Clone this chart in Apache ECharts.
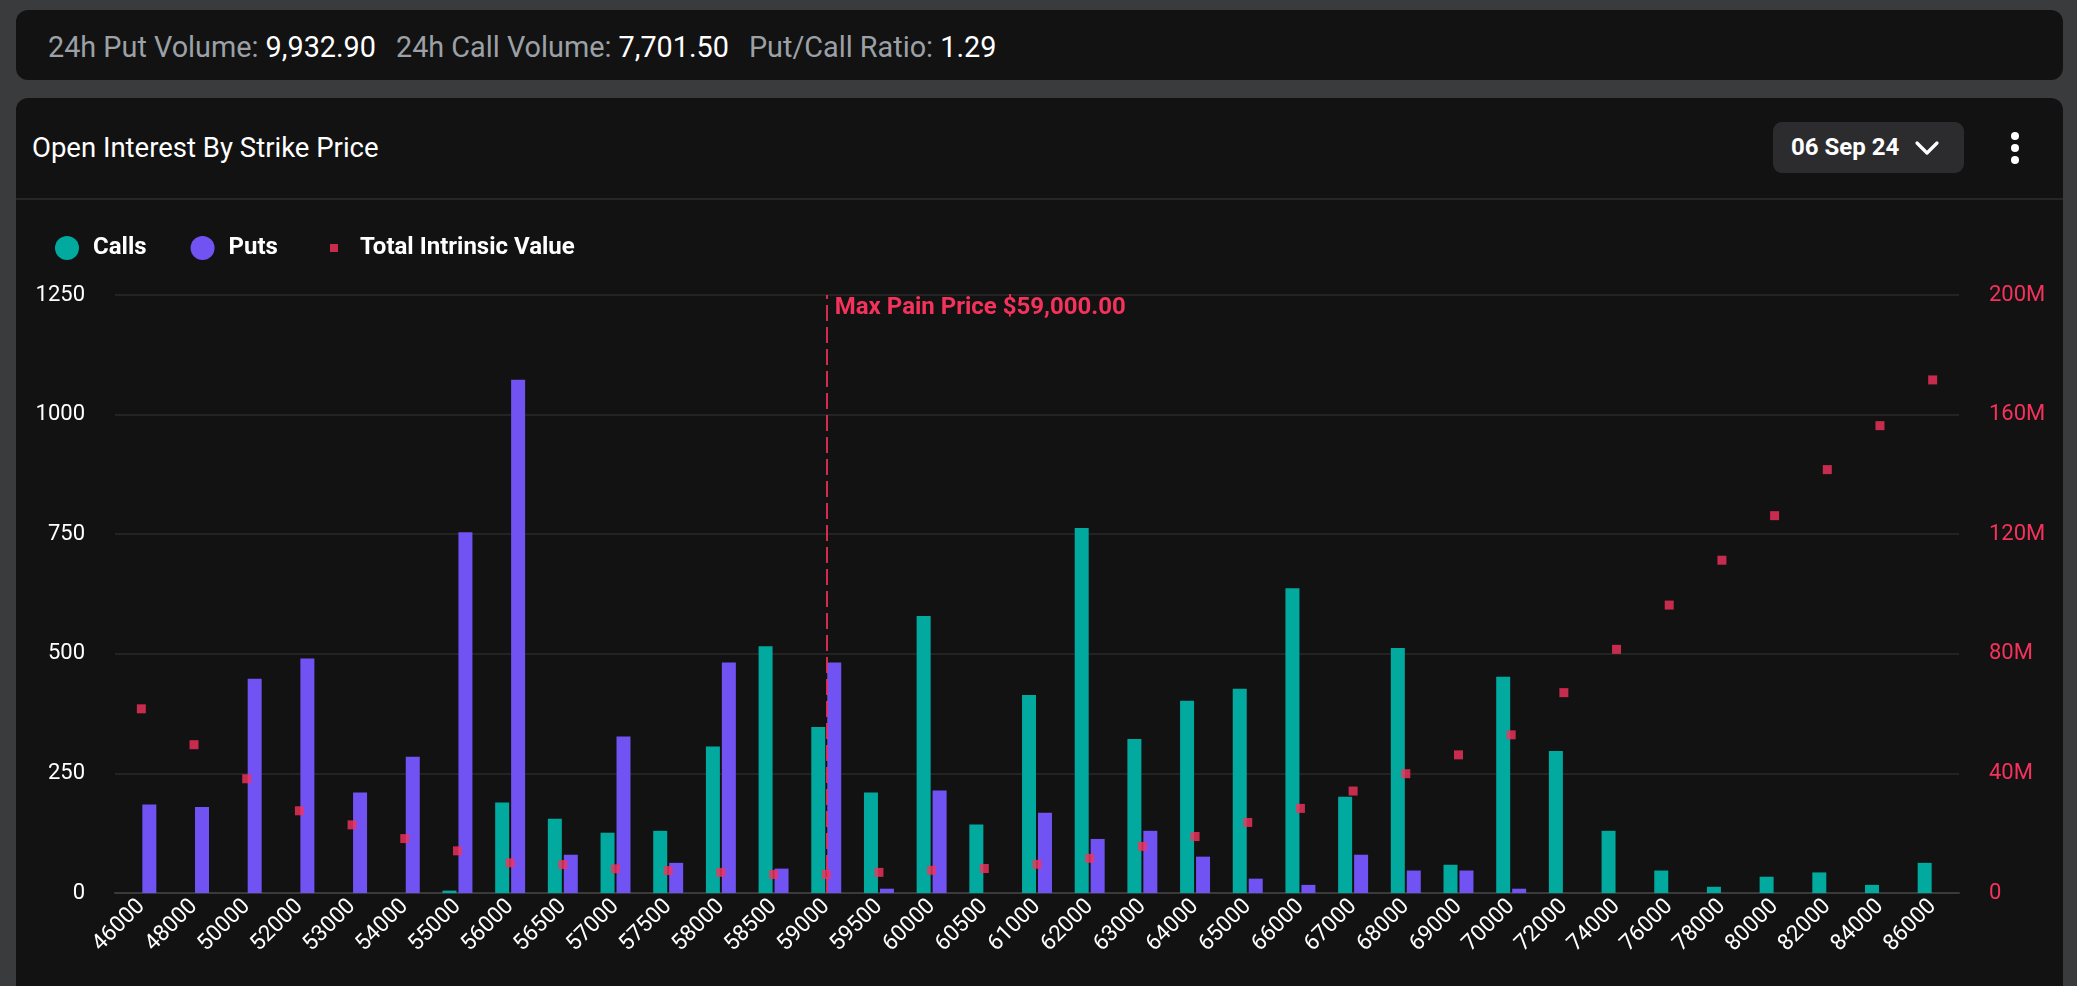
<!DOCTYPE html>
<html>
<head>
<meta charset="utf-8">
<script src="https://cdn.jsdelivr.net/npm/echarts@6/dist/echarts.min.js"></script>
<style>
  html, body { margin:0; padding:0; width:2077px; height:986px; overflow:hidden; background:#3a3b3d; font-family: Roboto, "Noto Sans", sans-serif; }
  .topbar { position:absolute; left:16px; top:10px; width:2047px; height:70px; background:#121212; border-radius:12px; }
  .topbar .txt { position:absolute; left:32px; top:2px; height:70px; line-height:70px; font-size:28.8px; color:#9ba1a6; white-space:nowrap; }
  .topbar .txt b { font-weight:400; color:#ffffff; }
  .topbar .txt span.item { margin-right:20px; }
  .panel { position:absolute; left:16px; top:98px; width:2047px; height:920px; background:#121212; border-radius:12px; }
  .title { position:absolute; left:16px; top:26px; height:48px; line-height:48px; font-size:27.5px; color:#ffffff; }
  .sep { position:absolute; left:0; top:100px; width:2047px; height:2px; background:#262628; }
  .datebtn { position:absolute; left:1757px; top:24px; width:191px; height:51px; background:#2c2c2e; border-radius:9px; }
  .datebtn .d { position:absolute; left:18px; top:0; height:51px; line-height:51px; font-size:24px; font-weight:700; color:#fff; }
  .datebtn svg { position:absolute; left:141px; top:17px; }
  .dots { position:absolute; left:1995px; top:34px; width:8px; }
  .dots i { display:block; width:8px; height:8px; border-radius:4px; background:#fff; margin-bottom:4px; }
  #chart { position:absolute; left:0; top:0; width:2077px; height:986px; }
</style>
</head>
<body>
<div class="topbar"><div class="txt"><span class="item">24h Put Volume: <b>9,932.90</b></span><span class="item">24h Call Volume: <b>7,701.50</b></span><span class="item">Put/Call Ratio: <b>1.29</b></span></div></div>
<div class="panel">
  <div class="title">Open Interest By Strike Price</div>
  <div class="datebtn"><div class="d">06 Sep 24</div>
    <svg width="26" height="18" viewBox="0 0 26 18"><polyline points="3,4 13,14 23,4" fill="none" stroke="#fff" stroke-width="3.2" stroke-linecap="round" stroke-linejoin="round"/></svg>
  </div>
  <div class="dots"><i></i><i></i><i></i></div>
  <div class="sep"></div>
</div>
<div id="chart"></div>
<script>
const categories = ['46000','48000','50000','52000','53000','54000','55000','56000','56500','57000','57500','58000','58500','59000','59500','60000','60500','61000','62000','63000','64000','65000','66000','67000','68000','69000','70000','72000','74000','76000','78000','80000','82000','84000','86000'];
const calls = [0,0,0,0,0,0,5,189,155,126,130,306,516,347,210,579,143,414,763,322,402,427,637,201,512,59,452,297,130,47,13,34,43,17,63];
const puts = [185,180,448,490,210,285,754,1073,80,327,63,482,51,482,9,214,0,168,113,130,76,30,17,80,47,47,9,0,0,0,0,0,0,0,0];
const intrinsicM = [61.6,49.6,38.2,27.5,22.8,18.2,14.1,10.1,9.5,8.1,7.5,6.9,6.2,6.2,6.9,7.6,8.2,9.6,11.6,15.6,18.9,23.6,28.3,34.1,39.9,46.2,52.9,67.0,81.5,96.3,111.3,126.2,141.6,156.3,171.6];
const leftTicks = { min:0, max:1250, interval:250 };
const rightTicks = { min:0, max:200000000, interval:40000000 };
const maxPainStrike = '59000';
const maxPainLabel = 'Max Pain Price $59,000.00';

const intrinsic = intrinsicM.map(v => v * 1e6);
const C_CALL = '#01a99f', C_PUT = '#7152f3', C_TIV = '#f5325c';

const chart = echarts.init(document.getElementById('chart'), null, { renderer: 'canvas' });
const legendText = { color: '#fff', fontSize: 24, fontWeight: 'bold', lineHeight: 24 };
chart.setOption({
  backgroundColor: 'transparent',
  animation: false,
  textStyle: { fontFamily: 'Roboto' },
  legend: [
    { data: ['Calls','Puts'], left: 55, top: 236, padding: 0, icon: 'circle', itemWidth: 24, itemHeight: 24, itemGap: 44,
      textStyle: Object.assign({ padding: [0,0,0,9] }, legendText) },
    { data: ['Total Intrinsic Value'], left: 330, top: 236, padding: 0, icon: 'rect', itemWidth: 8, itemHeight: 8,
      textStyle: Object.assign({ padding: [0,0,0,17] }, legendText) }
  ],
  grid: { left: 115, right: 118, top: 295, bottom: 93, containLabel: false },
  xAxis: {
    type: 'category', data: categories,
    axisLine: { lineStyle: { color: '#3a3a3a', width: 2 } },
    axisTick: { show: false },
    axisLabel: { color: '#fff', fontSize: 22.5, rotate: 45, margin: 10, interval: 0 }
  },
  yAxis: [
    { type: 'value', min: leftTicks.min, max: leftTicks.max, interval: leftTicks.interval,
      axisLine: { show: false }, axisTick: { show: false },
      axisLabel: { color: '#fff', fontSize: 22, margin: 30, formatter: v => String(v) },
      splitLine: { lineStyle: { color: '#2a2a2a', width: 1.5 } } },
    { type: 'value', min: rightTicks.min, max: rightTicks.max, interval: rightTicks.interval, position: 'right',
      axisLine: { show: false }, axisTick: { show: false },
      axisLabel: { color: C_TIV, fontSize: 22, margin: 30, formatter: v => v === 0 ? '0' : (v / 1e6) + 'M' },
      splitLine: { show: false } }
  ],
  series: [
    { name: 'Calls', type: 'bar', data: calls, barWidth: 14, barGap: '14%', itemStyle: { color: C_CALL } },
    { name: 'Puts', type: 'bar', data: puts, barWidth: 14, barGap: '14%', itemStyle: { color: C_PUT } },
    { name: 'Total Intrinsic Value', type: 'scatter', yAxisIndex: 1, data: intrinsic, symbol: 'rect', symbolSize: 9, z: 5,
      itemStyle: { color: C_TIV },
      markLine: { silent: true, symbol: ['none','none'], label: { show: false },
        lineStyle: { color: C_TIV, width: 2, type: [16, 6], opacity: 0.85 },
        data: [{ xAxis: maxPainStrike }] },
      markPoint: { silent: true, symbol: 'rect', symbolSize: 1, itemStyle: { color: 'rgba(0,0,0,0)' },
        data: [{ coord: [maxPainStrike, rightTicks.max],
          label: { show: true, position: 'right', distance: 8, offset: [0, 13], formatter: maxPainLabel,
            color: C_TIV, fontSize: 24, fontWeight: 'bold' } }] }
    }
  ]
});
</script>
</body>
</html>
